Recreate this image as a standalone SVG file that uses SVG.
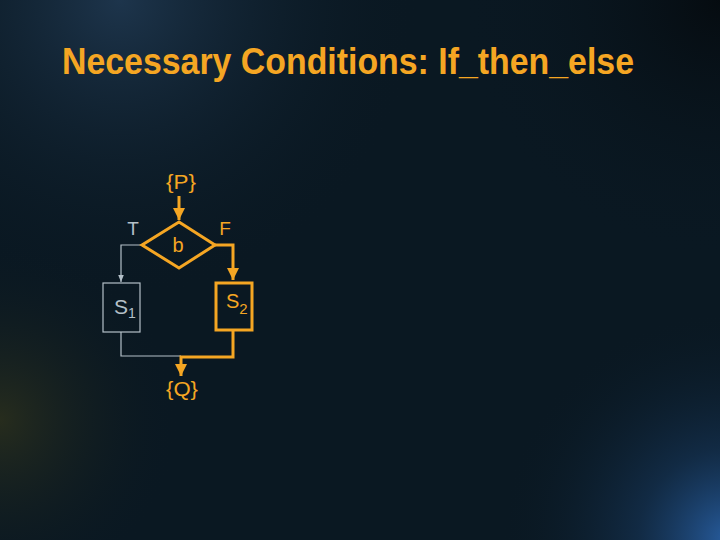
<svg xmlns="http://www.w3.org/2000/svg" width="720" height="540" viewBox="0 0 720 540">
<defs>
<radialGradient id="gBR" cx="730" cy="540" r="230" gradientUnits="userSpaceOnUse">
<stop offset="0" stop-color="#2f6fc0" stop-opacity="0.8"/>
<stop offset="0.4" stop-color="#1d4677" stop-opacity="0.4"/>
<stop offset="1" stop-color="#0a1822" stop-opacity="0"/>
</radialGradient>
<radialGradient id="gTL" cx="120" cy="0" r="300" gradientUnits="userSpaceOnUse">
<stop offset="0" stop-color="#2a4868" stop-opacity="0.6"/>
<stop offset="1" stop-color="#0a1822" stop-opacity="0"/>
</radialGradient>
<radialGradient id="gL" cx="0" cy="420" r="180" gradientUnits="userSpaceOnUse">
<stop offset="0" stop-color="#3a3a1a" stop-opacity="0.6"/>
<stop offset="1" stop-color="#0a1822" stop-opacity="0"/>
</radialGradient>
<radialGradient id="gTR" cx="720" cy="0" r="260" gradientUnits="userSpaceOnUse">
<stop offset="0" stop-color="#050a0e" stop-opacity="0.9"/>
<stop offset="1" stop-color="#0a1822" stop-opacity="0"/>
</radialGradient>
<marker id="ao" viewBox="0 0 10 10" refX="10" refY="5" markerWidth="4" markerHeight="4" orient="auto" markerUnits="strokeWidth">
<path d="M0,0 L10,5 L0,10 z" fill="#f5a623"/>
</marker>
<marker id="ag" viewBox="0 0 10 10" refX="10" refY="5" markerWidth="6" markerHeight="6" orient="auto" markerUnits="strokeWidth">
<path d="M0,1 L10,5 L0,9 z" fill="#b4c0c8"/>
</marker>
<style>
.o{fill:#f5a623;font-family:"Liberation Sans",Arial,sans-serif}
.g{fill:#b4c0c8;font-family:"Liberation Sans",Arial,sans-serif}
.lo{fill:none;stroke:#f5a623;stroke-width:3}
.lg{fill:none;stroke:#b4c0c8;stroke-width:1.2}
</style>
</defs>
<rect width="720" height="540" fill="#0a1822"/>
<rect width="720" height="540" fill="url(#gTL)"/>
<rect width="720" height="540" fill="url(#gL)"/>
<rect width="720" height="540" fill="url(#gBR)"/>
<rect width="720" height="540" fill="url(#gTR)"/>

<text id="title" class="o" x="62" y="74" font-size="37" font-weight="bold" textLength="572" lengthAdjust="spacingAndGlyphs">Necessary Conditions: If_then_else</text>

<g id="connectors">
<path class="lo" d="M179,196 L179,220" marker-end="url(#ao)"/>
<path class="lg" d="M142,245 L121,245 L121,282" marker-end="url(#ag)"/>
<path class="lo" d="M215,245 L233,245 L233,280" marker-end="url(#ao)"/>
<path class="lg" d="M121,332 L121,356 L181,356"/>
<path class="lo" d="M233,331 L233,357 L181,357 L181,376" marker-end="url(#ao)"/>
</g>

<g id="P"><text class="o" x="181" y="189" font-size="20" text-anchor="middle" textLength="30" lengthAdjust="spacingAndGlyphs">{P}</text></g>
<g id="b">
<polygon class="lo" points="179,222 215,245 179,268 142,245"/>
<text class="o" x="178" y="252" font-size="20" text-anchor="middle">b</text>
</g>
<g id="T"><text class="g" x="133" y="235" font-size="19" text-anchor="middle">T</text></g>
<g id="F"><text class="o" x="225" y="235" font-size="19" text-anchor="middle">F</text></g>
<g id="S1">
<rect class="lg" x="103" y="283" width="37" height="49"/>
<text class="g" x="114" y="314" font-size="21">S<tspan font-size="14" dy="4">1</tspan></text>
</g>
<g id="S2">
<rect class="lo" x="216" y="283" width="36" height="47"/>
<text class="o" x="226" y="308" font-size="20">S<tspan font-size="15" dy="6">2</tspan></text>
</g>
<g id="Q"><text class="o" x="182" y="396" font-size="20" text-anchor="middle" textLength="32" lengthAdjust="spacingAndGlyphs">{Q}</text></g>
</svg>
